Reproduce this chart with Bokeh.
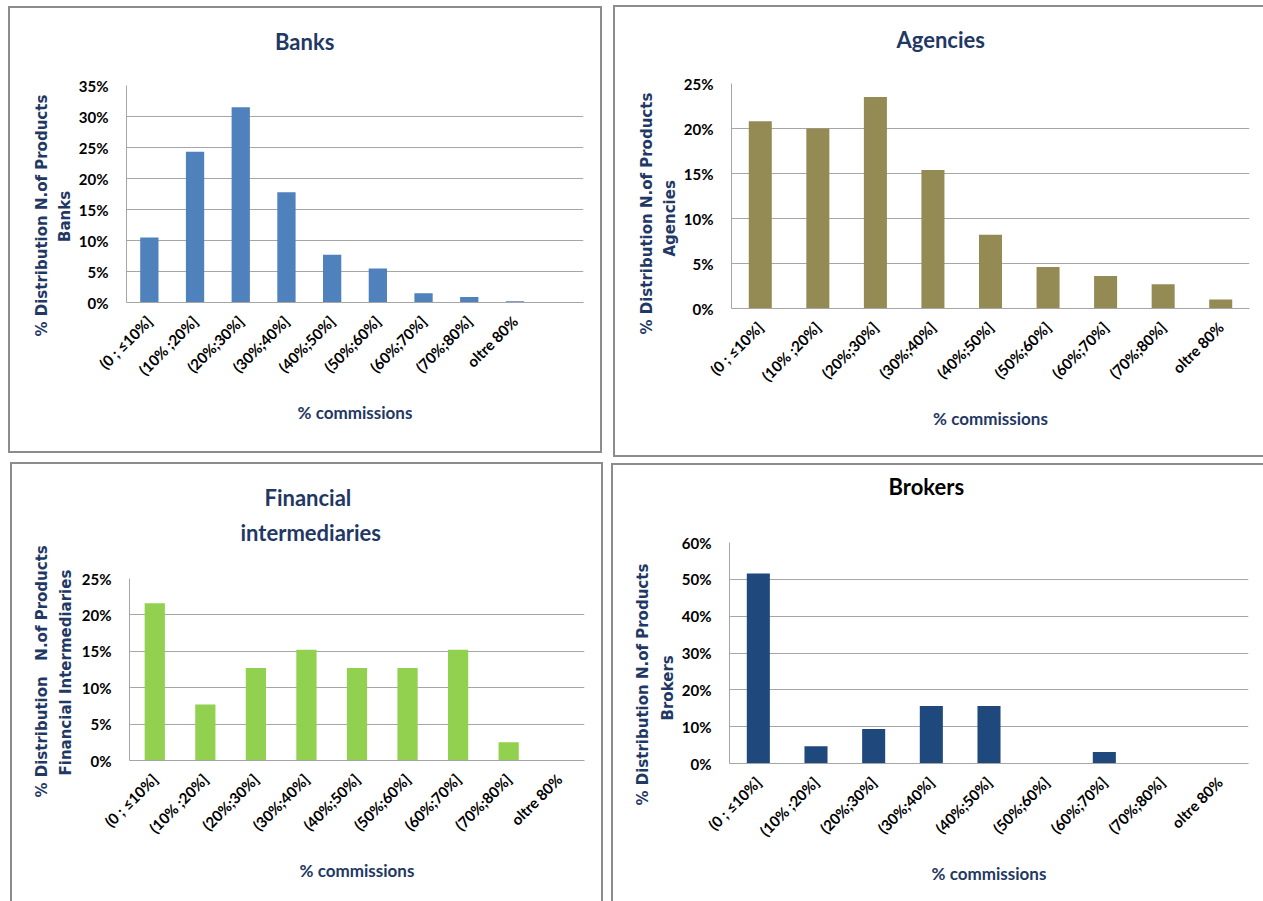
from math import pi

from bokeh.embed import file_html
from bokeh.layouts import column, row
from bokeh.models import FactorRange, FixedTicker, PrintfTickFormatter, Range1d, Spacer, Title
from bokeh.plotting import figure
from bokeh.resources import INLINE

# Commission brackets shared by every channel
categories = ["(0 ; ≤10%]", "(10% ;20%]", "(20%;30%]", "(30%;40%]", "(40%;50%]",
              "(50%;60%]", "(60%;70%]", "(70%;80%]", "oltre 80%"]

# % distribution of the number of products per channel
banks = [10.5, 24.3, 31.5, 17.8, 7.7, 5.5, 1.5, 0.9, 0.2]
agencies = [20.8, 20.0, 23.5, 15.4, 8.2, 4.6, 3.6, 2.7, 1.0]
financial = [21.6, 7.7, 12.7, 15.2, 12.7, 12.7, 15.2, 2.5, 0.0]
brokers = [51.6, 4.7, 9.4, 15.6, 15.6, 0.0, 3.1, 0.0, 0.0]

y_ticks_banks = [0, 5, 10, 15, 20, 25, 30, 35]
y_ticks_agencies = [0, 5, 10, 15, 20, 25]
y_ticks_financial = [0, 5, 10, 15, 20, 25]
y_ticks_brokers = [0, 10, 20, 30, 40, 50, 60]

NAVY = "#1F3864"
GRID = "#A6A6A6"
FRAME_LINE = "#8C8C8C"
FONT = "Lato"
YFONT = "DejaVu Sans"


def panel(values, color, y_ticks, box, frame, titles, title_color, ylabels,
          title_gap=0, extra_slot=False):
    """box = (x, y, w, h) of the panel on the page; frame = (left, top, right, bottom).

    titles:  (text, left edge x on the page, standoff), innermost line first
    ylabels: (text, lower end y on the page, standoff), innermost line first
    """
    x0, y0, w, h = box
    fl, ft, fr, fb = frame
    factors = list(categories) + ([" "] if extra_slot else [])
    p = figure(width=w, height=h,
               x_range=FactorRange(factors=factors),
               y_range=Range1d(y_ticks[0], y_ticks[-1]),
               min_border_left=fl - x0, min_border_right=x0 + w - fr,
               min_border_top=ft - y0, min_border_bottom=y0 + h - fb,
               output_backend="svg", toolbar_location=None,
               styles={"outline": f"2px solid {FRAME_LINE}", "outline-offset": "0px"})
    p.outline_line_color = None
    p.background_fill_color = "white"
    p.border_fill_color = "white"

    p.vbar(x=categories, top=values, width=0.4, fill_color=color, line_color=None)

    p.xgrid.grid_line_color = None
    p.ygrid.grid_line_color = GRID
    p.ygrid.grid_line_width = 1

    yax = p.yaxis[0]
    yax.ticker = FixedTicker(ticks=y_ticks)
    yax.formatter = PrintfTickFormatter(format="%d%%")
    yax.axis_line_color = GRID
    yax.major_tick_line_color = None
    yax.minor_tick_line_color = None
    yax.major_label_standoff = 12
    yax.major_label_text_font = FONT
    yax.major_label_text_font_style = "bold"
    yax.major_label_text_font_size = "15px"
    yax.major_label_text_color = "black"

    xax = p.xaxis[0]
    xax.axis_line_color = GRID
    xax.major_tick_line_color = None
    xax.minor_tick_line_color = None
    xax.major_label_orientation = pi / 4
    xax.major_label_standoff = 10
    xax.major_label_text_font = FONT
    xax.major_label_text_font_style = "bold"
    xax.major_label_text_font_size = "15px"
    xax.major_label_text_color = "black"
    xax.axis_label = "% commissions"
    xax.axis_label_standoff = 14
    xax.axis_label_text_font = FONT
    xax.axis_label_text_font_style = "bold"
    xax.axis_label_text_font_size = "17px"
    xax.axis_label_text_color = NAVY

    # blank line that keeps the chart title clear of the plot area
    p.add_layout(Title(text=" ", standoff=title_gap, text_font=FONT,
                       text_font_size="22px"), "above")
    for text, left, standoff in titles:
        p.add_layout(Title(text=text, align="left", offset=left - fl, standoff=standoff,
                           text_font=FONT, text_font_style="bold", text_font_size="22px",
                           text_color=title_color), "above")

    for text, low_end, standoff in ylabels:
        p.add_layout(Title(text=text, align="left", offset=fb - low_end, standoff=standoff,
                           text_font=YFONT, text_font_style="bold", text_font_size="15px",
                           text_color=NAVY), "left")
    return p


p1 = panel(banks, "#4F81BD", y_ticks_banks,
           box=(10, 8, 590, 443), frame=(126, 85, 583, 302),
           titles=[("Banks", 274.5, 3)], title_color=NAVY,
           ylabels=[("Banks", 241.5, 4), ("% Distribution N.of Products", 336, 1)],
           extra_slot=True)
p2 = panel(agencies, "#948A54", y_ticks_agencies,
           box=(615, 7, 648, 448), frame=(731, 83, 1249, 308),
           titles=[("Agencies", 896, 3)], title_color=NAVY,
           ylabels=[("Agencies", 256, 4), ("% Distribution N.of Products", 334, 1)])
p3 = panel(financial, "#92D050", y_ticks_financial,
           box=(12, 464, 589, 437), frame=(129, 578, 584, 760),
           titles=[("intermediaries", 240, 7), ("Financial", 264, 6)], title_color=NAVY,
           ylabels=[("Financial Intermediaries", 775, 8),
                    ("% Distribution\u00a0\u00a0 N.of Products", 797, 0)])
p4 = panel(brokers, "#1F497D", y_ticks_brokers,
           box=(613, 465, 650, 436), frame=(729, 542, 1248, 763),
           titles=[("Brokers", 888, 7)], title_color="black",
           ylabels=[("Brokers", 720, 4), ("% Distribution N.of Products", 805, 5)],
           title_gap=10)

layout = column(
    Spacer(width=1263, height=7),
    row(Spacer(width=10, height=10), column(Spacer(width=10, height=1), p1),
        Spacer(width=15, height=10), p2),
    Spacer(width=1263, height=9),
    row(Spacer(width=12, height=10), p3, Spacer(width=12, height=10),
        column(Spacer(width=10, height=1), p4)),
)

open("out.html", "w").write(file_html(layout, INLINE))
